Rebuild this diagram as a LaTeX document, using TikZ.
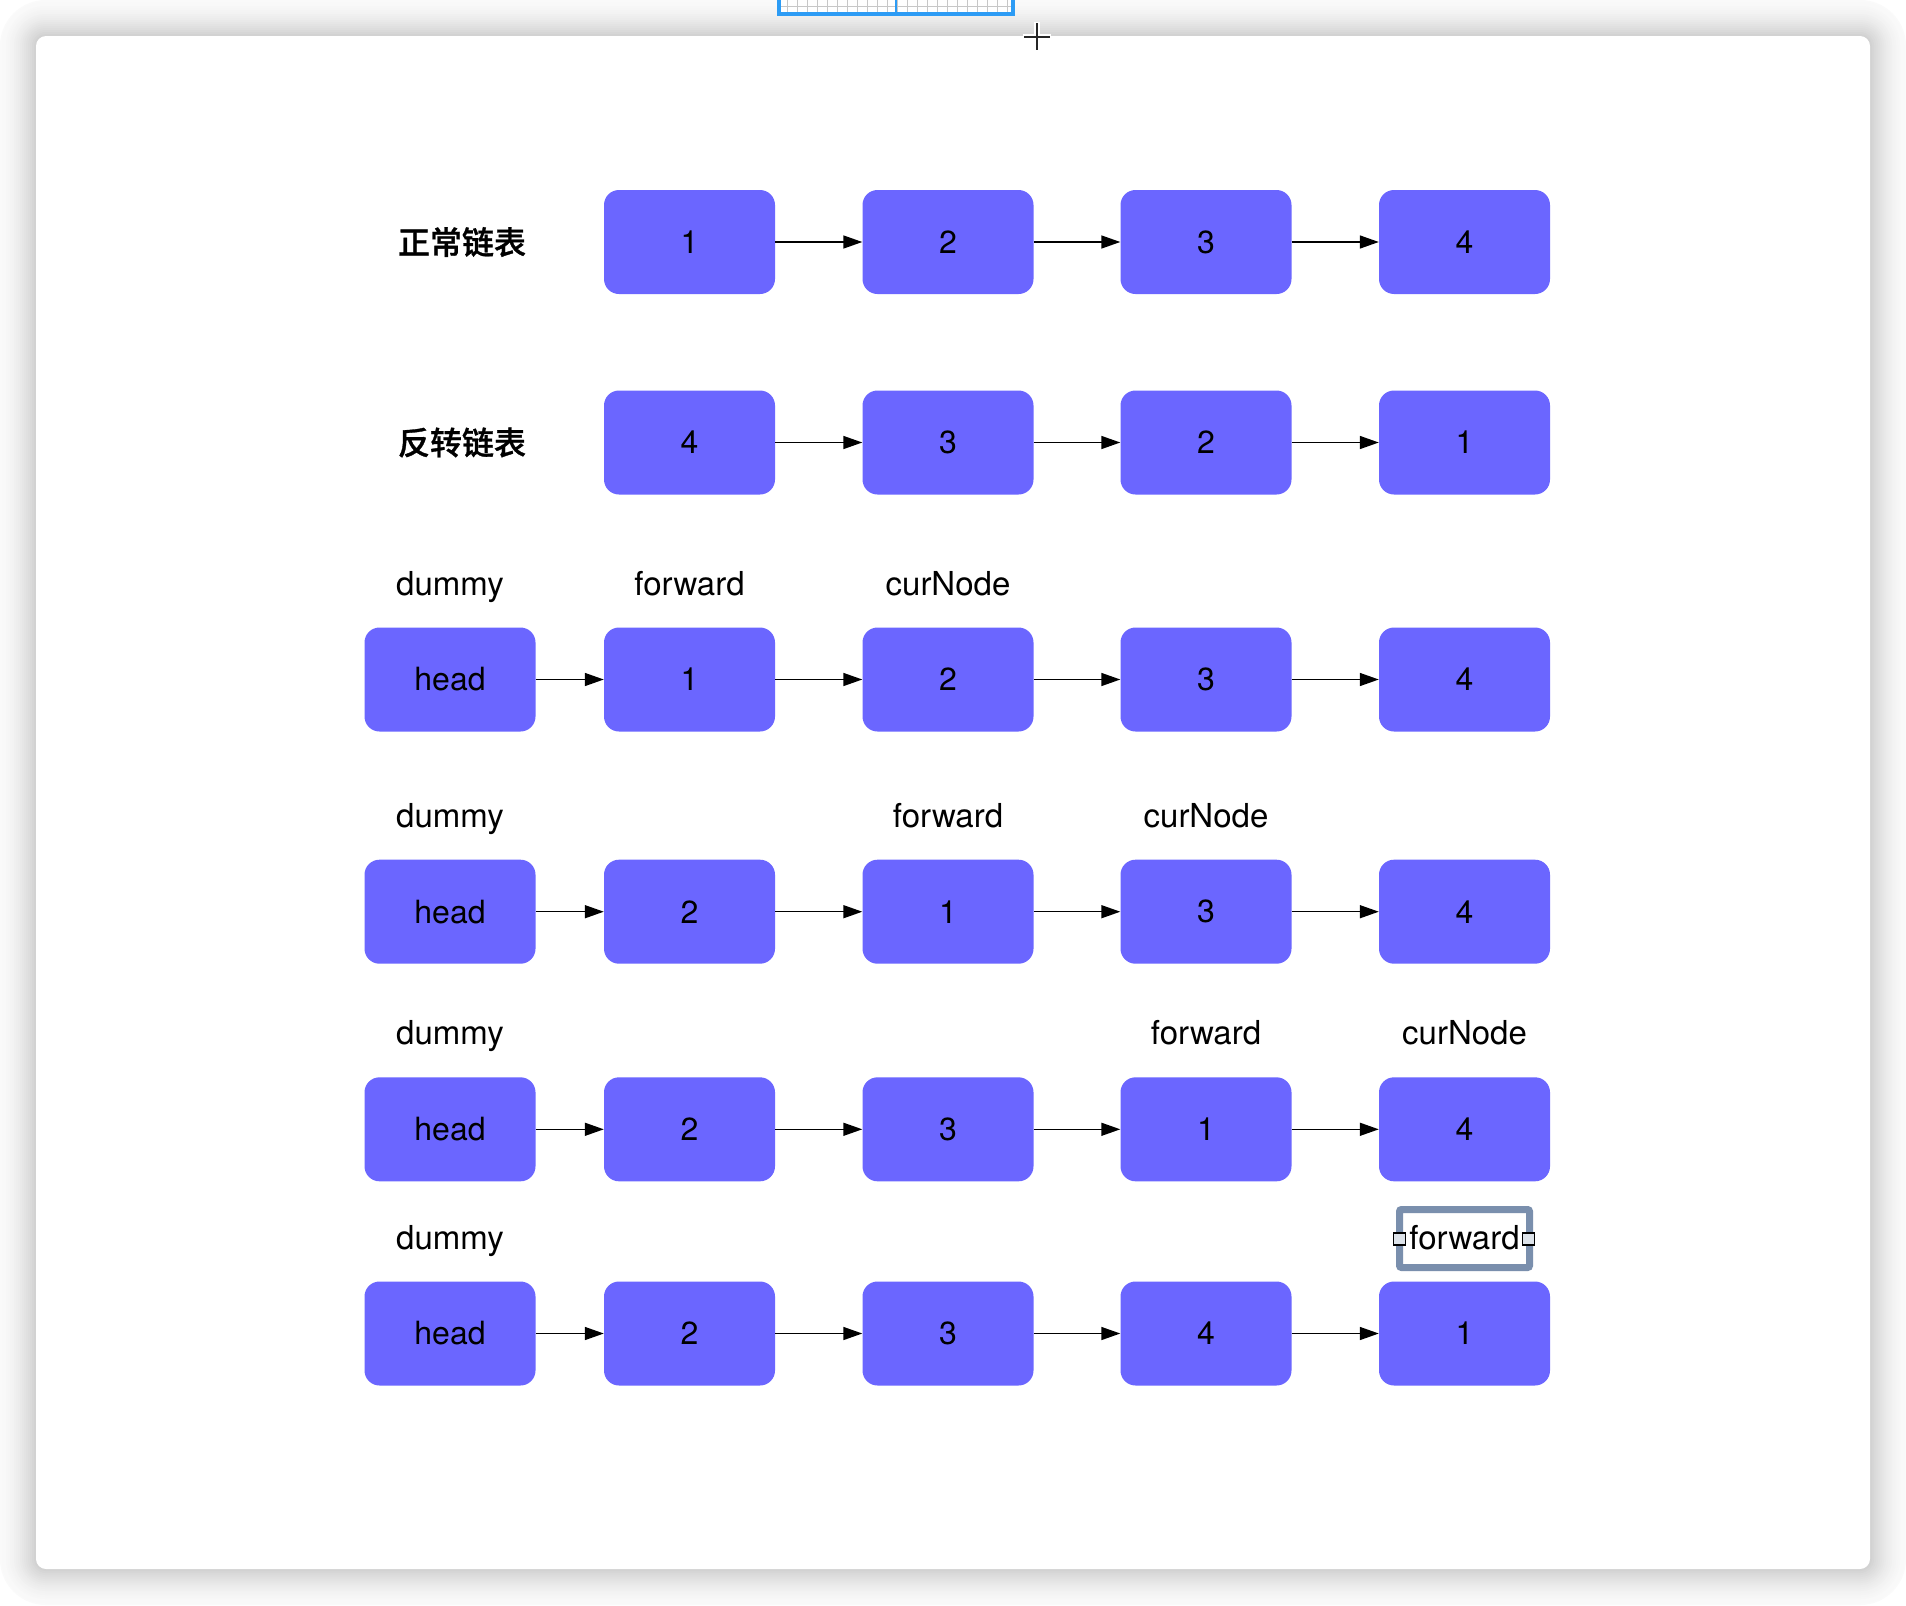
\documentclass[tikz,border=0pt]{standalone}
\usepackage{fontspec}
\setmainfont{TeX Gyre Heros}
\newfontfamily\cjk{Noto Sans CJK SC Medium}[FakeBold=1]
\usetikzlibrary{arrows.meta}
\definecolor{boxblue}{HTML}{6B66FF}
\definecolor{selframe}{HTML}{7A8FAD}
\definecolor{handlefill}{HTML}{DDE3EA}
\definecolor{topblue}{HTML}{2D9CF5}
\tikzset{
  listbox/.style={rounded corners=15pt, fill=boxblue, minimum width=171pt, minimum height=104pt, inner sep=0pt, font=\fontsize{32}{32}\selectfont, text=black},
  lbl/.style={inner sep=0pt, anchor=base, font=\fontsize{33}{33}\selectfont, text=black},
  cnlbl/.style={inner sep=0pt, font=\cjk\fontsize{32}{32}\selectfont, text=black},
  link/.style={line width=1.5pt, -{Triangle[length=19pt,width=13pt]}, black},
}
\begin{document}
\begin{tikzpicture}[x=1pt,y=-1pt]
\useasboundingbox (0,0) rectangle (1906,1606);
\fill[white] (0,0) rectangle (1906,1606);
% shadow around the card
\foreach \d in {36,34,...,0}{
  \pgfmathsetmacro{\p}{2+17*(1-\d/36)^1.6}
  \pgfmathsetmacro{\r}{10+\d}
  \fill[black!\p, rounded corners=\r pt] (36-\d,36-\d) rectangle (1870+\d,1569+\d);
}
\fill[white, rounded corners=10pt] (36,36) rectangle (1870,1569);
% top selection strip
\fill[white] (778,-5) rectangle (1013,13.7);
\foreach \gx in {787,797,...,1007}{\draw[black!22, line width=1pt] (\gx,-5) -- (\gx,13);}
\draw[black!22, line width=1pt] (778,6) -- (1013,6);
\draw[topblue, line width=4pt] (778.7,-3) -- (778.7,13.7) -- (1013.3,13.7) -- (1013.3,-3);
\draw[topblue, line width=2pt] (896,-3) -- (896,13.7);
% crosshair
\draw[white, line width=6pt] (1023,37) -- (1051,37) (1037,22) -- (1037,51);
\draw[black!85, line width=2.5pt] (1024,37) -- (1050,37) (1037,23) -- (1037,50);

% row labels
\node[cnlbl] (t1) at (462,242) {正常链表};
\node[cnlbl] (t2) at (462,442.5) {反转链表};

% row 1
\node[listbox] (a2) at (689.5,242) {1};
\node[listbox] (a3) at (948,242) {2};
\node[listbox] (a4) at (1206,242) {3};
\node[listbox] (a5) at (1464.5,242) {4};
% row 2
\node[listbox] (b2) at (689.5,442.5) {4};
\node[listbox] (b3) at (948,442.5) {3};
\node[listbox] (b4) at (1206,442.5) {2};
\node[listbox] (b5) at (1464.5,442.5) {1};
% row 3
\node[listbox] (c1) at (450,679.5) {head};
\node[listbox] (c2) at (689.5,679.5) {1};
\node[listbox] (c3) at (948,679.5) {2};
\node[listbox] (c4) at (1206,679.5) {3};
\node[listbox] (c5) at (1464.5,679.5) {4};
% row 4
\node[listbox] (d1) at (450,911.7) {head};
\node[listbox] (d2) at (689.5,911.7) {2};
\node[listbox] (d3) at (948,911.7) {1};
\node[listbox] (d4) at (1206,911.7) {3};
\node[listbox] (d5) at (1464.5,911.7) {4};
% row 5
\node[listbox] (e1) at (450,1129.3) {head};
\node[listbox] (e2) at (689.5,1129.3) {2};
\node[listbox] (e3) at (948,1129.3) {3};
\node[listbox] (e4) at (1206,1129.3) {1};
\node[listbox] (e5) at (1464.5,1129.3) {4};
% row 6
\node[listbox] (f1) at (450,1333.5) {head};
\node[listbox] (f2) at (689.5,1333.5) {2};
\node[listbox] (f3) at (948,1333.5) {3};
\node[listbox] (f4) at (1206,1333.5) {4};
\node[listbox] (f5) at (1464.5,1333.5) {1};

% connectors
\foreach \r in {a,b}{
  \draw[link] (\r2.east) -- (\r3.west);
  \draw[link] (\r3.east) -- (\r4.west);
  \draw[link] (\r4.east) -- (\r5.west);
}
\foreach \r in {c,d,e,f}{
  \draw[link] (\r1.east) -- (\r2.west);
  \draw[link] (\r2.east) -- (\r3.west);
  \draw[link] (\r3.east) -- (\r4.west);
  \draw[link] (\r4.east) -- (\r5.west);
}

% pointer labels (baseline aligned)
\node[lbl] (lc1) at (450,595) {dummy};
\node[lbl] (lc2) at (689.5,595) {forward};
\node[lbl] (lc3) at (948,595) {curNode};
\node[lbl] (ld1) at (450,827) {dummy};
\node[lbl] (ld3) at (948,827) {forward};
\node[lbl] (ld4) at (1206,827) {curNode};
\node[lbl] (le1) at (450,1044.5) {dummy};
\node[lbl] (le4) at (1206,1044.5) {forward};
\node[lbl] (le5) at (1464.5,1044.5) {curNode};
\node[lbl] (lf1) at (450,1249) {dummy};
% selected label
\draw[selframe, line width=7pt, rounded corners=2pt] (1399.5,1209.5) rectangle (1529.5,1267.5);
\node[lbl] (lf5) at (1464.5,1249) {forward};
\draw[black, fill=handlefill, line width=1.5pt] (1393.5,1233) rectangle (1405.5,1245);
\draw[black, fill=handlefill, line width=1.5pt] (1522.5,1233) rectangle (1534.5,1245);
\end{tikzpicture}
\end{document}
